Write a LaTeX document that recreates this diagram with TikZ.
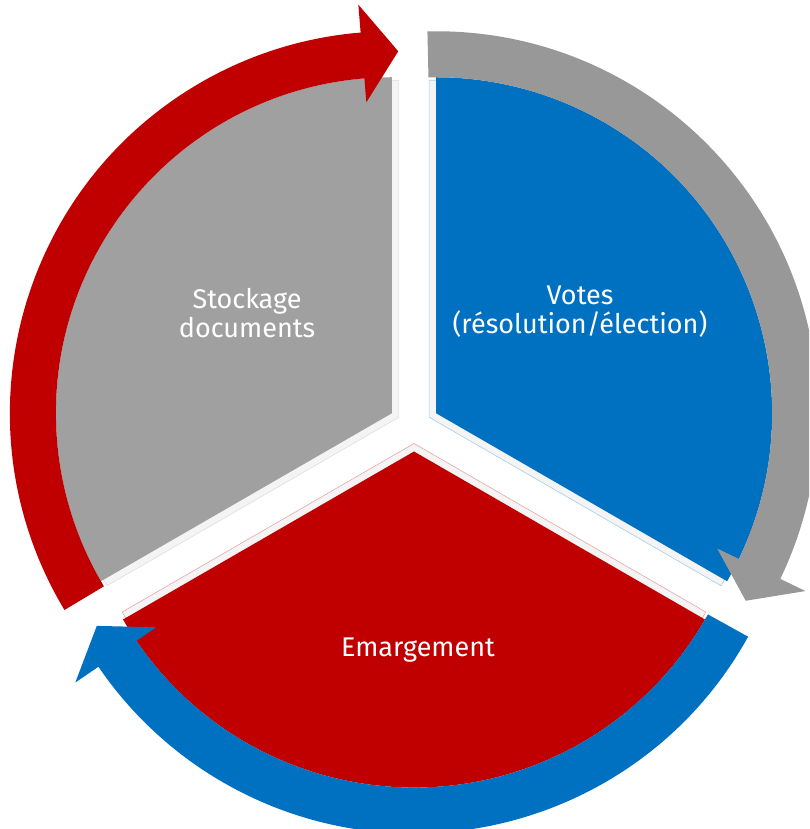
\documentclass[tikz,border=0pt]{standalone}
\usepackage{fontspec}
\setmainfont{Fira Sans}
\usetikzlibrary{calc}
\definecolor{cred}{HTML}{C00000}
\definecolor{cblue}{HTML}{0070C0}
\definecolor{cgraysec}{HTML}{A0A0A0}
\definecolor{cgrayarr}{HTML}{989898}
\definecolor{cstripe}{HTML}{F4F4F4}
\newcommand\cyclearrow[5]{%
  \fill[#5] ($(#1)+(#2:382)$) arc[start angle=#2,end angle=#3,radius=382]
    -- ($(#1)+(#3:410)$) -- ($(#1)+(#4:362)$) -- ($(#1)+(#3:312)$)
    -- ($(#1)+(#3:336)$) arc[start angle=#3,end angle=#2,radius=336] -- cycle;}
\newcommand\piesector[5]{%
  \fill[cstripe,draw=#5!35,line width=0.6pt] (#2) -- ++(#3:337) arc[start angle=#3,end angle=#4,radius=337] -- cycle;
  \fill[#5] (#1) -- ++(#3:336) arc[start angle=#3,end angle=#4,radius=336] -- cycle;}
\begin{document}
\begin{tikzpicture}[x=1pt,y=1pt,
  lbl/.style={text=white,align=center,font=\fontsize{27}{29}\selectfont}]
\useasboundingbox (0,0) rectangle (809,829);
\clip (0,0) rectangle (809,829);
\coordinate (C) at (414,403);
\coordinate (Pg) at ($(C)+(150:25.5)$);
\coordinate (Pb) at ($(C)+(30:25.5)$);
\coordinate (Pr) at ($(C)+(270:25.5)$);
\coordinate (Sg) at ($(C)+(150:17.5)$);
\coordinate (Sb) at ($(C)+(30:17.5)$);
\coordinate (Sr) at ($(C)+(270:17.5)$);
% sectors
\piesector{Pg}{Sg}{90}{210}{cgraysec}
\piesector{Pb}{Sb}{-30}{90}{cblue}
\piesector{Pr}{Sr}{210}{330}{cred}
% arrows
\cyclearrow{Pg}{211}{94.7}{89}{cred}
\cyclearrow{Pb}{91.3}{-25.7}{-31.2}{cgrayarr}
\cyclearrow{Pr}{331}{214.3}{208.8}{cblue}
% labels
\node[lbl] (stock) at (247,516) {Stockage\\documents};
\node[lbl] (votes) at (580,517) {Votes\\(résolution/élection)};
\node[lbl] (emarg) at (418,179) {Emargement};
\end{tikzpicture}
\end{document}
